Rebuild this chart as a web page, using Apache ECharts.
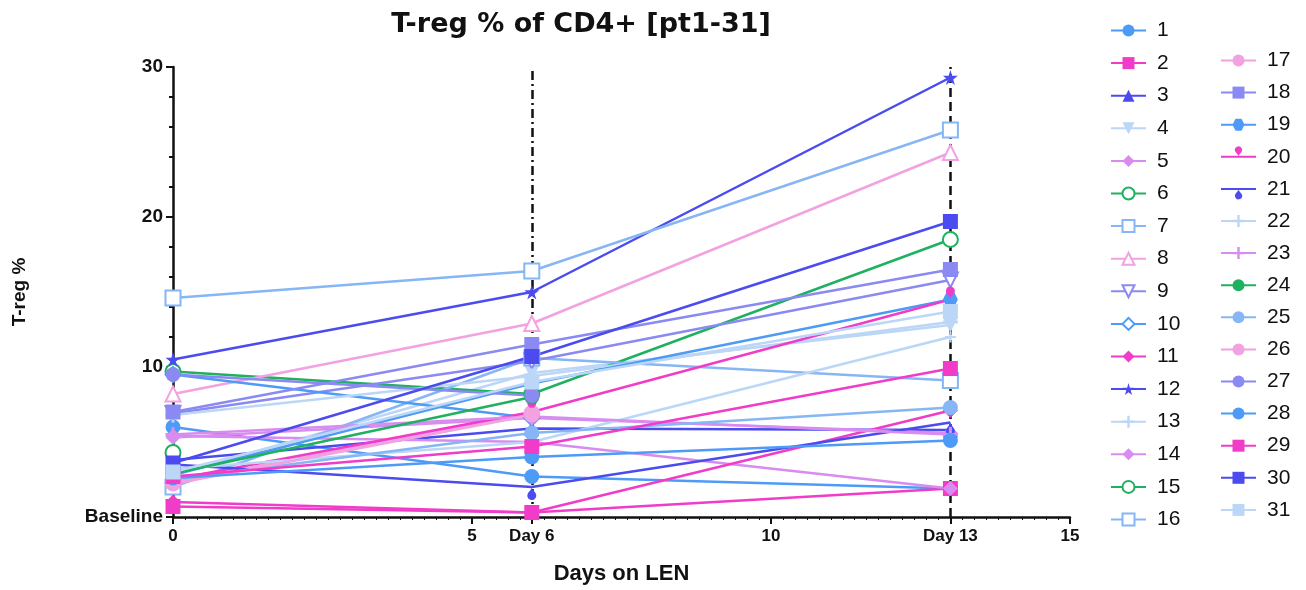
<!DOCTYPE html>
<html>
<head>
<meta charset="utf-8">
<script src="https://cdn.jsdelivr.net/npm/echarts@6/dist/echarts.min.js"></script>
<style>
  html, body { margin: 0; padding: 0; background: #fff; }
  #chart { width: 1306px; height: 590px; }
</style>
</head>
<body>
<div id="chart"></div>
<script>
// patients and days
const patients = ['1', '2', '3', '4', '5', '6', '7', '8', '9', '10', '11', '12', '13', '14', '15', '16',
  '17', '18', '19', '20', '21', '22', '23', '24', '25', '26', '27', '28', '29', '30', '31'];
const days = [0, 6, 13];

// T-reg %, one value per patient
const day0Values = [6.0, 0.7, 3.8, 2.8, 5.4, 9.7, 2.0, 8.2, 6.9, 9.5, 1.0, 10.5, 6.8, 5.3, 4.3, 14.6,
  2.3, 7.0, 2.8, 2.5, 3.5, 3.2, 5.5, 2.9, 2.5, 2.2, 9.5, 2.6, 2.7, 3.6, 3.0];
const day6Values = [2.7, 0.3, 5.9, 9.6, 5.0, 8.2, 10.6, 12.9, 10.4, 6.6, 0.3, 15.0, 9.4, 6.6, null, 16.4,
  6.9, 11.5, 8.9, 7.0, 2.0, 5.0, 6.7, 8.0, 5.6, 6.8, 8.1, 4.0, 4.7, 10.7, 9.0];
const day13Values = [1.9, 1.9, 5.8, 12.8, 1.9, 18.5, 9.1, 24.3, 15.8, null, 7.1, 29.3, 13.0, 5.6, null, 25.8,
  null, 16.5, 14.5, 14.5, 6.3, 12.0, 5.5, null, 7.3, null, null, 5.1, 9.9, 19.7, 13.7];

// tick labels
const xTickValues = [0, 5, 6, 10, 13, 15];
const xTickLabels = { 0: '0', 5: '5', 6: 'Day 6', 10: '10', 13: 'Day 13', 15: '15' };
const yTickLabels = { 0: 'Baseline', 10: '10', 20: '20', 30: '30' };

const palette = ['#4d9bf7', '#f03cc8', '#4b4bf0', '#bcd6f7', '#d88cf0', '#1fb060', '#86b6f5', '#f2a2e0', '#8a8af2'];

const starPath = 'path://M50,0 L61,35 L98,35 L68,57 L79,91 L50,70 L21,91 L32,57 L2,35 L39,35 Z';
const plusPath = 'path://M40,0H60V40H100V60H60V100H40V60H0V40H40Z';
const hexPath = 'path://M25,0H75L100,50L75,100H25L0,50Z';
const symbols = [
  'circle', 'rect', 'triangle', 'triangle', 'diamond', 'emptyCircle', 'emptyRect', 'emptyTriangle',
  'emptyTriangle', 'emptyDiamond', 'diamond', starPath, plusPath, 'diamond', 'emptyCircle', 'emptyRect',
  'circle', 'rect', hexPath, 'pin', 'pin', plusPath, plusPath, 'circle', 'circle', 'circle', 'circle',
  'circle', 'rect', 'rect', 'rect'
];
const rotated = { 3: 180, 8: 180, 20: 180 };

const fontFamily = 'Liberation Sans, Arial, sans-serif';

const chart = echarts.init(document.getElementById('chart'));

const series = patients.map((name, i) => {
  const vals = [day0Values[i], day6Values[i], day13Values[i]];
  const s = {
    name: name,
    type: 'line',
    data: days.map((d, k) => [d, vals[k]]),
    symbol: symbols[i],
    symbolSize: i === 16 ? 17 : (i === 21 ? 11 : 15),
    symbolRotate: rotated[i] || 0,
    showAllSymbol: true,
    color: palette[i % 9],
    lineStyle: { width: 2.5, color: palette[i % 9] },
    itemStyle: { color: palette[i % 9], borderWidth: 2.5 },
    emphasis: { disabled: true },
    z: 3
  };
  if (i === 0) {
    s.markLine = {
      silent: true,
      symbol: ['none', 'none'],
      label: { show: false },
      z: 1,
      data: [
        { xAxis: 6, lineStyle: { color: '#111', width: 2.5, type: [9, 4, 2, 4] } },
        { xAxis: 13, lineStyle: { color: '#111', width: 2.5, type: [9, 5] } }
      ]
    };
  }
  return s;
});

const legendBase = {
  orient: 'vertical',
  itemWidth: 35,
  itemHeight: 15,
  textStyle: { fontSize: 21, color: '#111', fontFamily: fontFamily, lineHeight: 20, padding: [0, 0, 0, 6] }
};

chart.setOption({
  animation: false,
  backgroundColor: '#fff',
  title: {
    text: 'T-reg % of CD4+ [pt1-31]',
    left: 576,
    textAlign: 'center',
    top: 6,
    textStyle: { fontSize: 27, fontWeight: 'bold', color: '#111', fontFamily: 'DejaVu Sans, sans-serif' }
  },
  legend: [
    Object.assign({}, legendBase, { data: patients.slice(0, 16), left: 1105, top: 15, itemGap: 11.6 }),
    Object.assign({}, legendBase, { data: patients.slice(16), left: 1215, top: 45, itemGap: 11.1 })
  ],
  grid: { left: 173, right: 236, top: 67, bottom: 73, containLabel: false },
  xAxis: {
    type: 'value',
    min: 0,
    max: 15,
    interval: 5,
    name: 'Days on LEN',
    nameLocation: 'middle',
    nameGap: 46,
    nameTextStyle: { fontSize: 22, fontWeight: 'bold', color: '#111', fontFamily: fontFamily },
    axisLine: { lineStyle: { color: '#111', width: 2.5 } },
    axisTick: { show: true, length: 7, customValues: xTickValues, lineStyle: { color: '#111', width: 2 } },
    minorTick: { show: true, splitNumber: 25, length: 3, lineStyle: { color: '#111', width: 1 } },
    axisLabel: {
      customValues: xTickValues,
      formatter: v => xTickLabels[v] || '',
      fontSize: 17,
      fontWeight: 'bold',
      color: '#111',
      margin: 11,
      fontFamily: fontFamily
    },
    splitLine: { show: false }
  },
  yAxis: {
    type: 'value',
    min: 0,
    max: 30,
    interval: 10,
    name: 'T-reg %',
    nameLocation: 'middle',
    nameRotate: 90,
    nameGap: 144,
    nameTextStyle: { fontSize: 19, fontWeight: 'bold', color: '#111', fontFamily: fontFamily },
    axisLine: { show: true, lineStyle: { color: '#111', width: 2.5 } },
    axisTick: { show: true, length: 7, lineStyle: { color: '#111', width: 2 } },
    minorTick: { show: true, splitNumber: 5, length: 4, lineStyle: { color: '#111', width: 2 } },
    axisLabel: {
      formatter: v => yTickLabels[v] || '',
      fontSize: 19,
      fontWeight: 'bold',
      color: '#111',
      margin: 10,
      fontFamily: fontFamily
    },
    splitLine: { show: false }
  },
  series: series
});
</script>
</body>
</html>
